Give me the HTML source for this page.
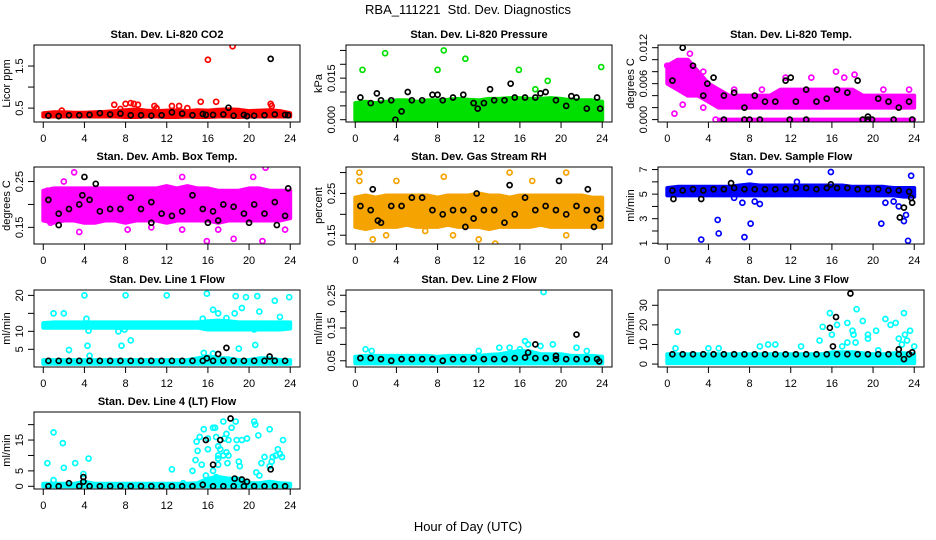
<!DOCTYPE html>
<html><head><meta charset="utf-8"><title>RBA_111221 Std. Dev. Diagnostics</title>
<style>
html,body{margin:0;padding:0;background:#fff;}
svg{display:block;font-family:"Liberation Sans",sans-serif;}
</style></head>
<body>
<svg id="chart" width="936" height="540" viewBox="0 0 936 540" xmlns="http://www.w3.org/2000/svg">
<text x="468" y="14" text-anchor="middle" font-size="13">RBA_111221&#160;&#160;Std. Dev. Diagnostics</text>
<text x="468" y="531" text-anchor="middle" font-size="13">Hour of Day (UTC)</text>
</svg>
<script>
// shared categories
const bandHours = [0,1,2,3,4,5,6,7,8,9,10,11,12,13,14,15,16,17,18,19,20,21,22,23,24];
const blackHours = [0.5,1.5,2.5,3.5,4.5,5.5,6.5,7.5,8.5,9.5,10.5,11.5,12.5,13.5,14.5,15.5,16.5,17.5,18.5,19.5,20.5,21.5,22.5,23.5];
const xTicks = [0,4,8,12,16,20,24];

// P1 CO2
const co2Lo = [0.3,0.3,0.3,0.3,0.3,0.3,0.3,0.3,0.29,0.29,0.3,0.3,0.29,0.29,0.3,0.29,0.29,0.3,0.3,0.29,0.3,0.3,0.3,0.3,0.3];
const co2Hi = [0.38,0.4,0.4,0.39,0.39,0.4,0.41,0.43,0.45,0.47,0.44,0.43,0.44,0.45,0.43,0.45,0.44,0.46,0.47,0.46,0.43,0.44,0.45,0.43,0.38];
const co2Out = [[16,1.65],[18.4,1.97],[22.1,0.6],[6.9,0.58],[8,0.6],[8.5,0.62],[8.8,0.6],[9.2,0.58],[10.8,0.55],[12.5,0.55],[13.2,0.55],[15.3,0.65],[16.8,0.65],[22.2,0.55],[7.5,0.48],[11,0.5],[14,0.5],[1.8,0.44]];
const co2Black = [0.32,0.31,0.33,0.33,0.34,0.38,0.35,0.37,0.33,0.33,0.32,0.33,0.4,0.37,0.33,0.36,0.34,0.35,0.32,0.34,0.32,0.33,0.35,0.34];
const co2BlackOut = [[22.1,1.67],[18,0.51],[15.8,0.34],[19.8,0.31],[23.8,0.33]];

// P2 Pressure
const presLo = [0,0,0,0,0,0,0,0,0,0,0,0,0,0,0,0,0,0,0,0,0,0,0,0,0];
const presHi = [0.006,0.0065,0.006,0.0065,0.007,0.007,0.0065,0.007,0.007,0.0072,0.0075,0.0072,0.007,0.0075,0.0075,0.0078,0.0078,0.0075,0.0075,0.0078,0.0075,0.007,0.007,0.007,0.0065];
const presOut = [[0.7,0.018],[2.9,0.024],[8,0.018],[8.6,0.025],[10.7,0.022],[15.9,0.018],[17.5,0.011],[18.7,0.014],[23.9,0.019],[14.1,0.001]];
const presBlack = [0.008,0.006,0.007,0.007,0.003,0.007,0.007,0.009,0.007,0.008,0.009,0.006,0.006,0.007,0.007,0.008,0.008,0.008,0.01,0.007,0.005,0.008,0.004,0.008];
const presBlackOut = [[2.1,0.0095],[5.1,0.01],[13.1,0.011],[15.1,0.013],[18,0.0095],[3.9,0.0],[8,0.009],[11.9,0.004],[23.8,0.004],[21,0.0085]];

// P3 Temp
const tempLo = [0.006,0.005,0.004,0.004,0.003,0.002,0.002,0.002,0.002,0.002,0.002,0.002,0.002,0.002,0.002,0.002,0.002,0.002,0.002,0.002,0.002,0.002,0.002,0.002,0.002];
const tempHi = [0.009,0.010,0.010,0.008,0.006,0.005,0.004,0.004,0.004,0.004,0.004,0.005,0.005,0.005,0.005,0.005,0.005,0.005,0.005,0.004,0.004,0.004,0.004,0.004,0.004];
const tempZero = [null,null,null,null,null,0,0,0,0,0,0,0,0,0,0,0,0,0,0,0,0,0,0,0,0];
const tempOut = [[0,0.009],[0.7,0.001],[2.2,0.011],[3.5,0.008],[6.5,0.005],[9.2,0.005],[11.5,0.007],[14,0.007],[16.4,0.008],[17.2,0.007],[18.2,0.0075],[21,0.005],[3.5,0.002],[1.5,0.0025],[4.7,0.0],[23.5,0.005]];
const tempBlack = [0.0065,0.012,0.009,0.004,0.007,0.004,0.0045,0.002,0.004,0.003,0.003,0.0065,0.003,0.005,0.003,0.0035,0.005,0.0045,0.0065,0.0005,0.0035,0.003,0.002,0.003];
const tempBlackOut = [[5.5,0],[7.5,0],[8,0],[9,0],[11.9,0],[13.5,0],[19,0],[19.5,0],[19.9,0],[22,0],[23.8,0],[12,0.007],[3.9,0.006]];

// P4 Amb Box Temp
const ambLo = [0.165,0.16,0.165,0.165,0.16,0.16,0.165,0.165,0.16,0.165,0.165,0.165,0.16,0.165,0.165,0.165,0.165,0.16,0.165,0.165,0.165,0.165,0.165,0.165,0.17];
const ambHi = [0.23,0.235,0.235,0.235,0.235,0.235,0.235,0.235,0.235,0.235,0.235,0.235,0.24,0.235,0.24,0.235,0.235,0.23,0.23,0.23,0.235,0.235,0.23,0.23,0.23];
const ambOut = [[0.4,0.23],[2,0.25],[3,0.27],[3.5,0.14],[8.2,0.145],[13.5,0.26],[15.9,0.12],[18.5,0.125],[20.4,0.26],[21.3,0.12],[21.6,0.28],[17,0.145],[13.5,0.145],[0.7,0.16],[10.5,0.15],[23.5,0.145]];
const ambBlack = [0.21,0.18,0.19,0.2,0.21,0.185,0.19,0.19,0.215,0.19,0.205,0.18,0.175,0.185,0.22,0.19,0.185,0.2,0.195,0.18,0.2,0.18,0.205,0.175];
const ambBlackOut = [[4,0.26],[5.1,0.245],[3.8,0.22],[16,0.16],[17,0.165],[20,0.16],[22.7,0.155],[23.8,0.235],[1.5,0.155],[10.5,0.16]];

// P5 Gas Stream RH
const rhLo = [0.17,0.165,0.17,0.17,0.17,0.175,0.17,0.17,0.17,0.175,0.17,0.17,0.17,0.165,0.17,0.17,0.17,0.17,0.175,0.17,0.17,0.17,0.17,0.17,0.17];
const rhHi = [0.24,0.245,0.24,0.245,0.245,0.245,0.245,0.245,0.24,0.245,0.245,0.245,0.25,0.245,0.245,0.24,0.245,0.245,0.245,0.245,0.245,0.245,0.245,0.24,0.24];
const rhOut = [[0.4,0.3],[0.4,0.28],[3,0.15],[1.7,0.14],[8.6,0.29],[13.6,0.13],[15,0.3],[17.2,0.28],[20.5,0.3],[20.5,0.15],[12,0.14],[9.5,0.15],[4,0.28],[6.8,0.16]];
const rhBlack = [0.22,0.21,0.18,0.22,0.22,0.24,0.24,0.21,0.2,0.21,0.21,0.19,0.21,0.21,0.18,0.2,0.24,0.21,0.22,0.21,0.2,0.22,0.21,0.21];
const rhBlackOut = [[1.7,0.26],[15,0.27],[19.8,0.28],[22.6,0.26],[23.2,0.17],[10.7,0.17],[11.8,0.25],[23.8,0.19],[2.2,0.185]];

// P6 Sample Flow
const sfLo = [4.9,4.9,4.9,4.9,4.9,4.9,4.9,4.9,4.9,4.9,4.9,4.9,4.9,4.9,4.9,4.9,4.9,4.9,4.9,4.9,4.9,4.9,4.9,4.8,4.8];
const sfHi = [5.5,5.6,5.6,5.6,5.6,5.6,5.6,5.7,5.8,5.7,5.7,5.7,5.7,5.7,5.7,5.7,5.7,5.7,5.6,5.6,5.6,5.6,5.5,5.5,5.5];
const sfOut = [[3.3,1.3],[4.9,2.9],[5,1.8],[7.5,1.5],[8.1,2.6],[8,6.8],[15.9,6.8],[23.7,6.5],[7.3,4.3],[8.5,4.4],[9,4.2],[20.8,2.6],[22.5,4],[23.2,3.3],[23,2.8],[23.4,1.2],[22,4.4],[21.2,4.3],[6.5,4.7],[12.6,6.0]];
const sfBlack = [5.3,5.3,5.4,5.3,5.4,5.4,5.5,5.4,5.4,5.4,5.4,5.4,5.5,5.5,5.4,5.5,5.5,5.5,5.4,5.4,5.4,5.3,5.3,5.2];
const sfBlackOut = [[0.6,4.6],[3.3,4.6],[6.2,5.9],[22.6,3.1],[23,3.9],[23.7,4.7],[23.8,4.3],[15.9,5.8]];

// P7 Line 1 Flow
const l1Lo = [11,11,11,11,11,11,11,11,11,11,11,11,11,11,11,11,10.5,10.5,10.5,10.5,10.5,10.5,10.5,10.5,10.8];
const l1Hi = [12.3,12.5,12.5,12.5,12.5,12.5,12.5,12.5,12.5,12.5,12.5,12.5,12.5,12.5,12.5,12.5,12.8,13,12.8,12.5,12.5,12.5,12.5,12.5,12.5];
const l1LowLo = [1,1,1,1,1,1,1,1,1,1,1,1,1,1,1,1,1,1,1,1,1,1,1,1,1];
const l1LowHi = [2,2,2,2,2,2,2,2,2,2,2,2,2,2,2,2.5,3,2.5,2.5,2,2,2.5,2.5,2,2];
const l1Out = [[4,20],[8,20],[12,20],[15.9,20.5],[18.7,19.8],[19.7,19.5],[20.8,19.8],[22.5,18.5],[23.9,19.5],[1,15],[2,15],[4.2,13.5],[4.4,10.2],[7.3,10],[7.9,10.5],[8.5,7.5],[4.3,6],[7.6,6],[2.5,4.8],[17,15],[16.5,16],[18.6,15],[19.3,16.5],[20.6,6.2],[21,15.5],[15.5,13.5],[20.5,10.5],[17.8,13.7],[19,5.2],[15.6,4],[16.5,3.8],[4.5,3.2],[23,14]];
const l1Black = [1.8,1.8,1.8,1.8,1.8,1.8,1.8,1.8,1.8,1.8,1.8,1.8,1.8,1.8,1.8,1.8,1.8,1.8,1.8,1.8,1.8,1.8,1.8,1.8];
const l1BlackOut = [[17.8,5.4],[17,3.7],[22,3],[15.9,2.5]];

// P8 Line 2 Flow
const l2Lo = [0.042,0.042,0.042,0.042,0.042,0.042,0.042,0.042,0.042,0.042,0.042,0.042,0.042,0.042,0.042,0.042,0.042,0.042,0.042,0.042,0.042,0.042,0.042,0.042,0.042];
const l2Hi = [0.062,0.065,0.065,0.065,0.065,0.065,0.065,0.065,0.062,0.065,0.065,0.065,0.065,0.068,0.07,0.075,0.08,0.078,0.07,0.07,0.07,0.065,0.065,0.065,0.062];
const l2Out = [[1,0.085],[1.6,0.08],[18.3,0.26],[14,0.09],[16.5,0.11],[16.8,0.1],[18,0.095],[19.2,0.1],[16,0.085],[12,0.08],[15,0.09],[21.5,0.09],[22.5,0.08]];
const l2Black = [0.058,0.058,0.055,0.05,0.055,0.055,0.055,0.055,0.05,0.055,0.055,0.058,0.055,0.055,0.055,0.058,0.06,0.058,0.058,0.055,0.055,0.055,0.055,0.055];
const l2BlackOut = [[17.5,0.1],[21.5,0.13],[16.8,0.075],[19.5,0.065],[23.7,0.048]];

// P9 Line 3 Flow
const l3Lo = [0.5,0.5,0.5,0.5,0.5,0.5,0.5,0.5,0.5,0.5,0.5,0.5,0.5,0.5,0.5,0.5,0.5,0.5,0.5,0.5,0.5,0.5,0.5,0.5,0.5];
const l3Hi = [5,5,5,5,5,5,5,5,5,5,5,5,5,5,5,5,6,6,6,5.5,5,5,5.5,5.5,5];
const l3Out = [[1,16.5],[0.8,8],[4,8],[5,8],[9,9],[9.8,10],[10.5,10],[17,9],[13,9],[14.8,12],[15.1,19],[15.8,26],[16.5,20],[17.5,11],[17.5,21],[18,17],[18.1,15],[18.4,28],[19,22],[19.5,13],[19.5,15],[20.3,17],[20.5,7],[21.2,23],[21.7,20],[22.2,21],[22.5,13],[23,26],[23.1,15],[23.3,12],[23.6,17],[24,9],[16,15],[18.3,11],[22.8,10]];
const l3Black = [5,5,5,5,5,5,5,5,5,5,5,5,5,5,5,5,5,5,5,5,5,5,5,5];
const l3BlackOut = [[15.8,18.5],[16.4,24],[17.8,36],[16.1,9],[22.5,7.5],[23,2.5],[23.8,6]];

// P10 Line 4 (LT) Flow
const l4Lo = [0,0,0,0,0,0,0,0,0,0,0,0,0,0,0,0,0,0,0,0,0,0,0,0,0];
const l4Hi = [0.8,0.8,0.8,0.8,1.5,0.8,0.8,0.8,0.8,0.8,0.8,0.8,0.8,0.8,0.8,1,2.5,3,2.5,2.5,1,1,1.5,1,0.8];
const l4Out = [[0.4,7.5],[1,17.5],[1.9,14],[2,6],[3.1,7.5],[4.4,9],[3.9,4],[1,2],[12.5,5.5],[13.6,1],[14.5,5],[14.8,8.5],[14.9,14.5],[15,11.5],[15.2,16],[15.4,7],[15.6,18.5],[15.8,3.5],[16,15.5],[16,12],[16.5,19],[16.7,19],[16.8,16],[17,13],[17,10],[17.2,12],[17.5,21],[17.6,15.5],[17.8,17],[17.8,11],[17.9,7.5],[18,15],[18.3,19],[18.7,21],[18.8,15],[18.8,12.5],[19,8],[19.1,6.5],[19.3,15],[19.8,15.5],[20.5,21],[20.6,20],[20.9,16.5],[21,3.5],[20.7,4.5],[21.2,7.5],[21.5,9.5],[22,18.5],[22,6.5],[22.3,9.5],[22.6,10],[22.8,12],[23,10.5],[23.3,15],[22.2,8],[23.2,9.5],[17,7],[16.5,5],[16.8,3],[17,9],[17.5,10],[18,10]];
const l4Black = [0,0,1,0,0,0,0,0,0,0,0,0,0,0,0,0.5,0,0,0,0,0,0,0,0];
const l4BlackOut = [[3.9,3],[3.9,1.5],[15.8,15],[16.5,7],[17.2,15],[18.2,22],[18.6,2.5],[19.3,2.2],[19.8,1.5],[22.1,5.5]];

const panels = [
 {name:"co2",title:"Stan. Dev. Li-820 CO2",col:0,row:0,dom:[0.17,2.0],ticks:[0.5,1.0,1.5],labels:{"0.5":"0.5","1.5":"1.5"},ytitle:"Licor ppm",color:"#ff0000",bands:[[co2Lo,co2Hi]],out:co2Out,black:co2Black,blackOut:co2BlackOut},
 {name:"pressure",title:"Stan. Dev. Li-820 Pressure",col:1,row:0,dom:[-0.00083,0.02696],ticks:[0,0.005,0.01,0.015,0.02,0.025],labels:{"0":"0.000","0.015":"0.015"},ytitle:"kPa",color:"#00e000",bands:[[presLo,presHi]],out:presOut,black:presBlack,blackOut:presBlackOut},
 {name:"temp",title:"Stan. Dev. Li-820 Temp.",col:2,row:0,dom:[-0.0004,0.01245],ticks:[0,0.002,0.004,0.006,0.008,0.01,0.012],labels:{"0":"0.000","0.006":"0.006","0.012":"0.012"},ytitle:"degrees C",color:"#ff00ff",bands:[[tempLo,tempHi],[tempZero,tempZero]],out:tempOut,black:tempBlack,blackOut:tempBlackOut},
 {name:"amb-temp",title:"Stan. Dev. Amb. Box Temp.",col:0,row:1,dom:[0.1137,0.2817],ticks:[0.15,0.2,0.25],labels:{"0.15":"0.15","0.25":"0.25"},ytitle:"degrees C",color:"#ff00ff",bands:[[ambLo,ambHi]],out:ambOut,black:ambBlack,blackOut:ambBlackOut},
 {name:"rh",title:"Stan. Dev. Gas Stream RH",col:1,row:1,dom:[0.129,0.3133],ticks:[0.15,0.2,0.25,0.3],labels:{"0.15":"0.15","0.25":"0.25"},ytitle:"percent",color:"#f5a300",bands:[[rhLo,rhHi]],out:rhOut,black:rhBlack,blackOut:rhBlackOut},
 {name:"sample-flow",title:"Stan. Dev. Sample Flow",col:2,row:1,dom:[0.94,7.21],ticks:[1,2,3,4,5,6,7],labels:{"1":"1","3":"3","5":"5","7":"7"},ytitle:"ml/min",color:"#0000ff",bands:[[sfLo,sfHi]],out:sfOut,black:sfBlack,blackOut:sfBlackOut},
 {name:"line1",title:"Stan. Dev. Line 1 Flow",col:0,row:2,dom:[0.08,21.5],ticks:[5,10,15,20],labels:{"5":"5","10":"10","20":"20"},ytitle:"ml/min",color:"#00ffff",bands:[[l1Lo,l1Hi],[l1LowLo,l1LowHi]],out:l1Out,black:l1Black,blackOut:l1BlackOut},
 {name:"line2",title:"Stan. Dev. Line 2 Flow",col:1,row:2,dom:[0.031,0.266],ticks:[0.05,0.1,0.15,0.2,0.25],labels:{"0.05":"0.05","0.15":"0.15","0.25":"0.25"},ytitle:"ml/min",color:"#00ffff",bands:[[l2Lo,l2Hi]],out:l2Out,black:l2Black,blackOut:l2BlackOut},
 {name:"line3",title:"Stan. Dev. Line 3 Flow",col:2,row:2,dom:[-1.5,37.8],ticks:[0,10,20,30],labels:{"0":"0","10":"10","20":"20","30":"30"},ytitle:"ml/min",color:"#00ffff",bands:[[l3Lo,l3Hi]],out:l3Out,black:l3Black,blackOut:l3BlackOut},
 {name:"line4",title:"Stan. Dev. Line 4 (LT) Flow",col:0,row:3,dom:[-0.88,24.1],ticks:[0,5,10,15,20],labels:{"0":"0","5":"5","15":"15"},ytitle:"ml/min",color:"#00ffff",bands:[[l4Lo,l4Hi]],out:l4Out,black:l4Black,blackOut:l4BlackOut}
];

const NS = "http://www.w3.org/2000/svg";
const svg = document.getElementById("chart");
const colLeft = [34,346,658], rowTop = [45,167,290,412], W = 266, H = 77;
function mk(tag, attrs, parent){const e=document.createElementNS(NS,tag);for(const k in attrs)e.setAttribute(k,attrs[k]);parent.appendChild(e);return e;}

panels.forEach(p=>{
  const L=colLeft[p.col], T=rowTop[p.row];
  const xs = h => L + (h+0.9)/25.85*W;
  const ys = v => T + H - (v-p.dom[0])/(p.dom[1]-p.dom[0])*H;
  const g = mk("g",{},svg);
  
  
  const t = mk("text",{x:L+W/2,y:T-7,"text-anchor":"middle","font-size":"11","font-weight":"bold"},g);
  t.textContent = p.title;
  
  
  const clipId = "clip-"+p.name;
  const cp = mk("clipPath",{id:clipId},g);
  mk("rect",{x:L,y:T,width:W,height:H},cp);
  const plot = mk("g",{"clip-path":"url(#"+clipId+")"},g);
  
  
  p.bands.forEach((b,bi)=>{
    const lo=b[0], hi=b[1];
    let seg=[];
    const segs=[];
    bandHours.forEach((h,i)=>{ if(lo[i]===null||hi[i]===null){ if(seg.length)segs.push(seg); seg=[]; } else seg.push(i); });
    if(seg.length)segs.push(seg);
    segs.forEach(s=>{
      const top = s.map(i=>xs(bandHours[i]).toFixed(1)+","+ys(hi[i]).toFixed(1));
      const bot = s.slice().reverse().map(i=>xs(bandHours[i]).toFixed(1)+","+ys(lo[i]).toFixed(1));
      const poly = mk("polygon",{points:top.concat(bot).join(" "),fill:p.color,stroke:p.color,"stroke-width":"4","stroke-linejoin":"round"},plot);
      
      
    });
  });
  p.out.forEach(d=>{
    const c = mk("circle",{cx:xs(d[0]),cy:ys(d[1]),r:"2.5",fill:"none",stroke:p.color,"stroke-width":"1.7"},plot);
    
    
  });
  p.black.forEach((v,i)=>{
    const c = mk("circle",{cx:xs(blackHours[i]),cy:ys(v),r:"2.5",fill:"none",stroke:"#000","stroke-width":"1.7"},plot);
    
    
  });
  p.blackOut.forEach(d=>{
    const c = mk("circle",{cx:xs(d[0]),cy:ys(d[1]),r:"2.5",fill:"none",stroke:"#000","stroke-width":"1.7"},plot);
    
    
  });
  const box = mk("rect",{x:L,y:T,width:W,height:H,fill:"none",stroke:"#000","stroke-width":"1"},g);
  
  
  const xa = mk("g",{},g);
  
  
  mk("line",{x1:xs(xTicks[0]),x2:xs(xTicks[xTicks.length-1]),y1:T+H,y2:T+H,stroke:"#000"},xa);
  xTicks.forEach(h=>{
    mk("line",{x1:xs(h),x2:xs(h),y1:T+H,y2:T+H+6,stroke:"#000"},xa);
    const tl = mk("text",{x:xs(h),y:T+H+20,"text-anchor":"middle","font-size":"11"},xa);
    tl.textContent = h;
    
    
  });
  const ya = mk("g",{},g);
  
  
  mk("line",{x1:L,x2:L,y1:ys(p.ticks[0]),y2:ys(p.ticks[p.ticks.length-1]),stroke:"#000"},ya);
  p.ticks.forEach(v=>{
    mk("line",{x1:L-6,x2:L,y1:ys(v),y2:ys(v),stroke:"#000"},ya);
    const lab = p.labels[String(v)];
    if(lab!==undefined){
      const tx=L-11, ty=ys(v);
      const tl = mk("text",{x:tx,y:ty,"text-anchor":"middle","font-size":"11",transform:"rotate(-90 "+tx+" "+ty+")"},ya);
      tl.textContent = lab;
      
      
    }
  });
  const yx=L-24, yy=T+H/2;
  const yt = mk("text",{x:yx,y:yy,"text-anchor":"middle","font-size":"11",transform:"rotate(-90 "+yx+" "+yy+")"},g);
  yt.textContent = p.ytitle;
  
  
});
</script>
</body></html>
